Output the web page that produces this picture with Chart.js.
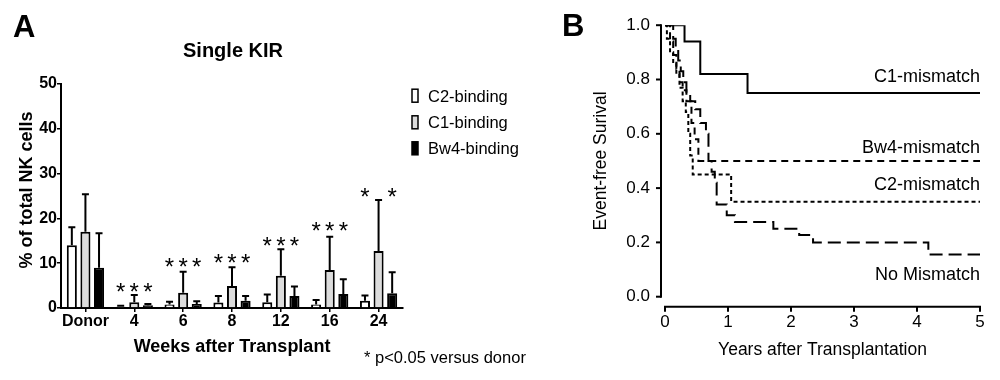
<!DOCTYPE html>
<html><head><meta charset="utf-8">
<script src="https://cdn.jsdelivr.net/npm/chart.js@4.4.1/dist/chart.umd.min.js"></script>
<style>
html,body{margin:0;padding:0;background:#fff;}
#wrap{position:relative;width:1000px;height:380px;overflow:hidden;background:#fff;}
.box{position:absolute;top:0;height:380px;}
</style></head><body>
<div id="wrap">
  <div class="box" style="left:0;width:560px;"><canvas id="ca"></canvas></div>
  <div class="box" style="left:560px;width:440px;"><canvas id="cb"></canvas></div>
</div>
<script>
// ---------- Panel A data ----------
const weekLabels = ['Donor', '4', '6', '8', '12', '16', '24'];
const c2Values  = [14.0, 0.3, 0.8, 1.2, 1.3, 0.8, 1.6];
const c2Upper   = [18.0, 0.5, 1.4, 2.7, 3.0, 1.8, 2.8];
const c1Values  = [17.0, 1.3, 3.4, 4.9, 7.2, 8.5, 12.7];
const c1Upper   = [25.4, 2.9, 8.1, 9.1, 13.1, 15.9, 24.1];
const bw4Values = [9.0, 0.6, 0.9, 1.6, 2.7, 3.1, 3.3];
const bw4Upper  = [16.7, 0.9, 1.5, 2.7, 4.8, 6.4, 8.0];
const starLevel = [null, 4.5, 10.0, 11.0, 14.8, 18.2, 25.6];
const c2Star  = [0, 1, 1, 1, 1, 1, 1];
const c1Star  = [0, 1, 1, 1, 1, 1, 0];
const bw4Star = [0, 1, 1, 1, 1, 1, 1];
const yTicksA = [0, 10, 20, 30, 40, 50];

// ---------- Panel B data ----------
const c1X  = [0, 0.31, 0.56, 1.31, 5];
const c1Y  = [1.0, 0.94, 0.82, 0.75, 0.75];
const bw4X = [0, 0.08, 0.13, 0.18, 0.23, 0.28, 0.34, 0.42, 0.47, 0.53, 5];
const bw4Y = [1.0, 0.94, 0.89, 0.84, 0.79, 0.76, 0.72, 0.64, 0.58, 0.5, 0.5];
const c2X  = [0, 0.03, 0.08, 0.13, 0.18, 0.23, 0.28, 0.33, 0.37, 0.4, 0.44, 1.05, 5];
const c2Y  = [1.0, 0.95, 0.9, 0.86, 0.82, 0.77, 0.72, 0.68, 0.6, 0.52, 0.45, 0.35, 0.35];
const noX  = [0, 0.13, 0.17, 0.21, 0.25, 0.29, 0.34, 0.4, 0.48, 0.56, 0.65, 0.69, 0.74, 0.79, 0.82, 0.98, 1.11, 1.72, 2.13, 2.35, 4.18, 5];
const noY  = [1.0, 0.95, 0.91, 0.87, 0.83, 0.79, 0.75, 0.72, 0.69, 0.64, 0.6, 0.5, 0.46, 0.42, 0.34, 0.3, 0.275, 0.25, 0.227, 0.2, 0.155, 0.155];
const curveNames = ['C1-mismatch', 'Bw4-mismatch', 'C2-mismatch', 'No Mismatch'];
const xTicksB = [0, 1, 2, 3, 4, 5];
const yTicksB = [0, 0.2, 0.4, 0.6, 0.8, 1.0];

const F = "'Liberation Sans', Arial, Helvetica, sans-serif";
const pts = (xs, ys) => xs.map((x, i) => ({x: x, y: ys[i]}));

// ---------- Panel A plugin ----------
const annotA = {
  id: 'annotA',
  afterDatasetsDraw(chart) {
    const ctx = chart.ctx, y = chart.scales.y;
    const uppers = [c2Upper, c1Upper, bw4Upper];
    const stars = [c2Star, c1Star, bw4Star];
    ctx.save();
    ctx.strokeStyle = '#000';
    ctx.fillStyle = '#000';
    ctx.lineWidth = 2;
    chart.data.datasets.forEach((ds, di) => {
      const meta = chart.getDatasetMeta(di);
      meta.data.forEach((bar, i) => {
        const ey = y.getPixelForValue(uppers[di][i]);
        ctx.beginPath();
        ctx.moveTo(bar.x, bar.y);
        ctx.lineTo(bar.x, ey);
        ctx.moveTo(bar.x - 3.5, ey);
        ctx.lineTo(bar.x + 3.5, ey);
        ctx.stroke();
        if (stars[di][i] && starLevel[i] != null) {
          ctx.font = '24px ' + F;
          ctx.textAlign = 'center';
          ctx.textBaseline = 'middle';
          ctx.fillText('*', bar.x, y.getPixelForValue(starLevel[i]) + 5.5);
        }
      });
    });
    ctx.restore();
  },
  afterDraw(chart) {
    const ctx = chart.ctx;
    ctx.save();
    ctx.fillStyle = '#000';
    ctx.textBaseline = 'alphabetic';
    ctx.font = 'bold 31px ' + F;
    ctx.textAlign = 'left';
    ctx.fillText('A', 13, 37);
    ctx.font = 'bold 20px ' + F;
    ctx.textAlign = 'center';
    ctx.fillText('Single KIR', 233, 57);
    ctx.save();
    ctx.translate(26.7, 190);
    ctx.rotate(-Math.PI / 2);
    ctx.font = 'bold 18px ' + F;
    ctx.textAlign = 'center';
    ctx.textBaseline = 'middle';
    ctx.fillText('% of total NK cells', 0, 0);
    ctx.restore();
    const fills = ['#ffffff', '#dcdcdc', '#000000'];
    const baselines = [101.7, 128.3, 154.3];
    chart.data.datasets.forEach((ds, i) => {
      const b = baselines[i];
      ctx.fillStyle = fills[i];
      ctx.fillRect(412, b - 12.5, 6, 13);
      ctx.strokeStyle = '#000';
      ctx.lineWidth = 1.5;
      ctx.strokeRect(412, b - 12.5, 6, 13);
      ctx.fillStyle = '#000';
      ctx.font = '16.5px ' + F;
      ctx.textAlign = 'left';
      ctx.fillText(ds.label, 428, b);
    });
    ctx.font = '16.5px ' + F;
    ctx.textAlign = 'left';
    ctx.fillText('* p<0.05 versus donor', 364, 363);
    ctx.restore();
  }
};

new Chart(document.getElementById('ca'), {
  type: 'bar',
  data: {
    labels: weekLabels,
    datasets: [
      {label: 'C2-binding', data: c2Values, backgroundColor: '#ffffff', borderColor: '#000', borderWidth: 2},
      {label: 'C1-binding', data: c1Values, backgroundColor: '#dcdcdc', borderColor: '#000', borderWidth: 2},
      {label: 'Bw4-binding', data: bw4Values, backgroundColor: '#000000', borderColor: '#000', borderWidth: 2}
    ]
  },
  options: {
    responsive: true, maintainAspectRatio: false, animation: false,
    datasets: {bar: {categoryPercentage: 0.835, barPercentage: 0.74}},
    layout: {padding: {left: 0, right: 157, top: 84, bottom: 0}},
    plugins: {legend: {display: false}, tooltip: {enabled: false}},
    scales: {
      x: {
        grid: {display: true, drawOnChartArea: false, offset: false, color: '#000', lineWidth: 1.5, tickLength: 4, drawTicks: true},
        border: {display: true, color: '#000', width: 2},
        ticks: {color: '#000', font: {family: F, size: 16, weight: 'bold'}, padding: 0, maxRotation: 0, autoSkip: false},
        title: {display: true, text: 'Weeks after Transplant', color: '#000', font: {family: F, size: 18, weight: 'bold'}, padding: {top: 0, bottom: 22.5}},
        afterFit(s) { s.height = 72; }
      },
      y: {
        min: 0, max: 50,
        afterBuildTicks(s) { s.ticks = yTicksA.map(v => ({value: v})); },
        ticks: {color: '#000', font: {family: F, size: 16, weight: 'bold'}, padding: 0},
        grid: {drawOnChartArea: false, color: '#000', lineWidth: 1.5, tickLength: 4},
        border: {color: '#000', width: 2},
        afterFit(s) { s.width = 61; }
      }
    }
  },
  plugins: [annotA]
});

// ---------- Panel B plugin ----------
const annotB = {
  id: 'annotB',
  afterDraw(chart) {
    const ctx = chart.ctx, xs = chart.scales.x, ys = chart.scales.y, ca = chart.chartArea;
    ctx.save();
    ctx.strokeStyle = '#000';
    ctx.fillStyle = '#000';
    ctx.lineWidth = 2;
    ctx.lineCap = 'butt';
    const ax = ca.left - 4;
    ctx.beginPath();
    ctx.moveTo(ax, ys.getPixelForValue(0) + 1);
    ctx.lineTo(ax, ys.getPixelForValue(1) - 1);
    ctx.stroke();
    yTicksB.forEach(v => {
      const py = ys.getPixelForValue(v);
      ctx.beginPath(); ctx.moveTo(ax - 5, py); ctx.lineTo(ax, py); ctx.stroke();
    });
    const ay = ca.bottom + 10;
    ctx.beginPath();
    ctx.moveTo(xs.getPixelForValue(0) - 1, ay);
    ctx.lineTo(xs.getPixelForValue(5) + 1, ay);
    ctx.stroke();
    xTicksB.forEach(v => {
      const px = xs.getPixelForValue(v);
      ctx.beginPath(); ctx.moveTo(px, ay); ctx.lineTo(px, ay + 5); ctx.stroke();
    });
    ctx.textBaseline = 'alphabetic';
    ctx.font = 'bold 31px ' + F;
    ctx.textAlign = 'left';
    ctx.fillText('B', 2, 36);
    const lblBase = [82, 153, 190, 280];
    ctx.font = '18px ' + F;
    ctx.textAlign = 'right';
    curveNames.forEach((n, i) => ctx.fillText(n, xs.getPixelForValue(5), lblBase[i]));
    ctx.restore();
  }
};

const lineDs = (label, xs, ys, dash) => ({
  label: label, data: pts(xs, ys), borderColor: '#000', borderWidth: 2,
  borderDash: dash, stepped: true, pointRadius: 0, fill: false, tension: 0
});

new Chart(document.getElementById('cb'), {
  type: 'line',
  data: {
    datasets: [
      lineDs(curveNames[0], c1X, c1Y, []),
      lineDs(curveNames[1], bw4X, bw4Y, [7, 5]),
      lineDs(curveNames[2], c2X, c2Y, [4, 3]),
      lineDs(curveNames[3], noX, noY, [13, 6])
    ]
  },
  options: {
    responsive: true, maintainAspectRatio: false, animation: false,
    layout: {padding: {left: 0, right: 20, top: 25, bottom: 0}},
    plugins: {legend: {display: false}, tooltip: {enabled: false}},
    scales: {
      x: {
        type: 'linear', min: 0, max: 5,
        afterBuildTicks(s) { s.ticks = xTicksB.map(v => ({value: v})); },
        ticks: {color: '#000', font: {family: F, size: 17}, padding: 15},
        grid: {display: false, drawTicks: false},
        border: {display: false},
        title: {display: true, text: 'Years after Transplantation', color: '#000', font: {family: F, size: 17.5}, padding: {top: 0, bottom: 19.5}},
        afterFit(s) { s.height = 83.3; }
      },
      y: {
        min: 0, max: 1,
        afterBuildTicks(s) { s.ticks = yTicksB.map(v => ({value: v})); },
        ticks: {color: '#000', font: {family: F, size: 17}, padding: 15, callback: v => Number(v).toFixed(1)},
        grid: {display: false, drawTicks: false},
        border: {display: false},
        title: {display: true, text: 'Event-free Surival', color: '#000', font: {family: F, size: 17.5}, padding: {top: 30.5, bottom: 0}},
        afterFit(s) { s.width = 105; }
      }
    }
  },
  plugins: [annotB]
});
</script>
</body></html>
